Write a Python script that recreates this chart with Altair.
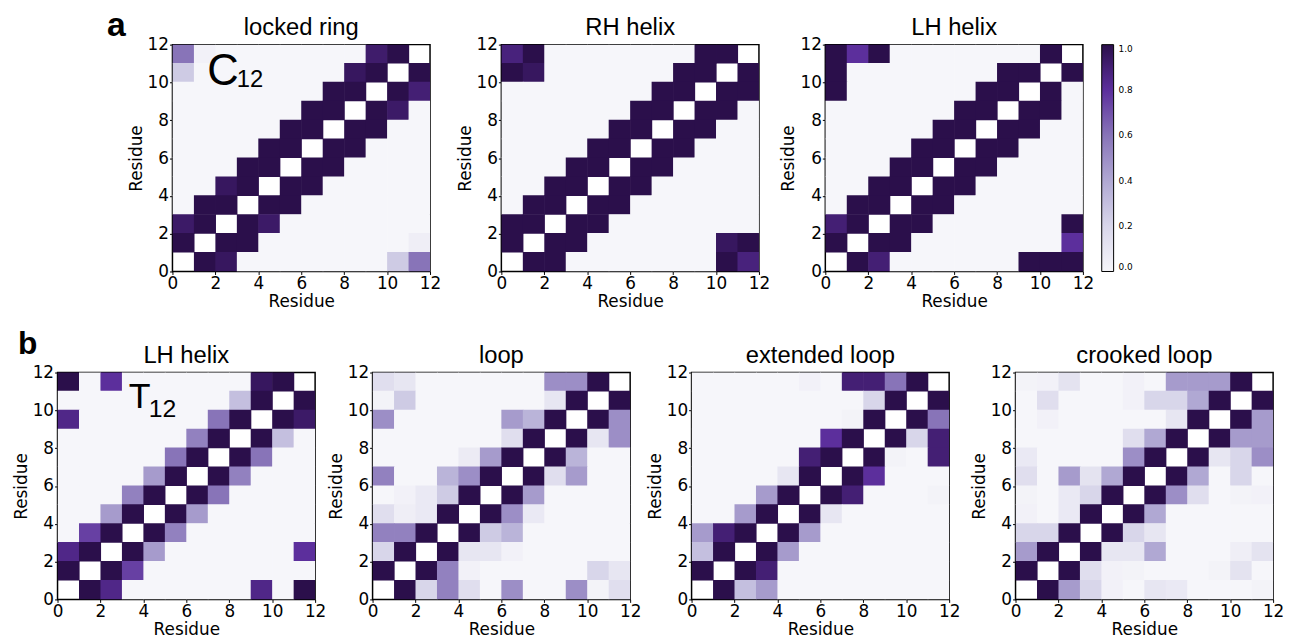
import altair as alt
import pandas as pd

N = 12
TICKS = [0, 2, 4, 6, 8, 10, 12]
COLOR_STOPS = [0.0, 0.2, 0.4, 0.6, 0.8, 1.0]
COLOR_RANGE = ["#f6f6fa", "#d8d6ea", "#b0a8d3", "#8874b8", "#5c2f9c", "#2b0f4b"]
LEGEND_VALUES = [0.0, 0.2, 0.4, 0.6, 0.8, 1.0]

D = None  # diagonal (not drawn)

# rows listed from residue 11 (top) down to residue 0 (bottom); columns residue 0..11
locked_ring = [
    [0.6, 0.03, 0, 0, 0, 0, 0, 0, 0, 0.92, 1.0, D],
    [0.25, 0, 0, 0, 0, 0, 0, 0, 0.95, 1.0, D, 1.0],
    [0, 0, 0, 0, 0, 0, 0, 1.0, 1.0, D, 1.0, 0.9],
    [0, 0, 0, 0, 0, 0, 1.0, 1.0, D, 1.0, 0.93, 0],
    [0, 0, 0, 0, 0, 1.0, 1.0, D, 1.0, 1.0, 0, 0],
    [0, 0, 0, 0, 1.0, 1.0, D, 1.0, 1.0, 0, 0, 0],
    [0, 0, 0, 1.0, 1.0, D, 1.0, 1.0, 0, 0, 0, 0],
    [0, 0, 0.95, 1.0, D, 1.0, 1.0, 0, 0, 0, 0, 0],
    [0, 1.0, 1.0, D, 1.0, 1.0, 0, 0, 0, 0, 0, 0],
    [0.93, 1.0, D, 1.0, 0.93, 0, 0, 0, 0, 0, 0, 0],
    [1.0, D, 1.0, 1.0, 0, 0, 0, 0, 0, 0, 0, 0.05],
    [D, 1.0, 0.95, 0, 0, 0, 0, 0, 0, 0, 0.25, 0.6],
]

rh_helix = [
    [0.88, 1.0, 0, 0, 0, 0, 0, 0, 0, 1.0, 1.0, D],
    [1.0, 0.95, 0, 0, 0, 0, 0, 0, 1.0, 1.0, D, 1.0],
    [0, 0, 0, 0, 0, 0, 0, 1.0, 1.0, D, 1.0, 1.0],
    [0, 0, 0, 0, 0, 0, 1.0, 1.0, D, 1.0, 1.0, 0],
    [0, 0, 0, 0, 0, 1.0, 1.0, D, 1.0, 1.0, 0, 0],
    [0, 0, 0, 0, 1.0, 1.0, D, 1.0, 1.0, 0, 0, 0],
    [0, 0, 0, 1.0, 1.0, D, 1.0, 1.0, 0, 0, 0, 0],
    [0, 0, 1.0, 1.0, D, 1.0, 1.0, 0, 0, 0, 0, 0],
    [0, 1.0, 1.0, D, 1.0, 1.0, 0, 0, 0, 0, 0, 0],
    [1.0, 1.0, D, 1.0, 1.0, 0, 0, 0, 0, 0, 0, 0],
    [1.0, D, 1.0, 1.0, 0, 0, 0, 0, 0, 0, 0.95, 1.0],
    [D, 1.0, 1.0, 0, 0, 0, 0, 0, 0, 0, 1.0, 0.88],
]

lh_helix_c12 = [
    [1.0, 0.8, 1.0, 0, 0, 0, 0, 0, 0, 0, 1.0, D],
    [1.0, 0, 0, 0, 0, 0, 0, 0, 1.0, 1.0, D, 1.0],
    [1.0, 0, 0, 0, 0, 0, 0, 1.0, 1.0, D, 1.0, 0],
    [0, 0, 0, 0, 0, 0, 1.0, 1.0, D, 1.0, 1.0, 0],
    [0, 0, 0, 0, 0, 1.0, 1.0, D, 1.0, 1.0, 0, 0],
    [0, 0, 0, 0, 1.0, 1.0, D, 1.0, 1.0, 0, 0, 0],
    [0, 0, 0, 1.0, 1.0, D, 1.0, 1.0, 0, 0, 0, 0],
    [0, 0, 1.0, 1.0, D, 1.0, 1.0, 0, 0, 0, 0, 0],
    [0, 1.0, 1.0, D, 1.0, 1.0, 0, 0, 0, 0, 0, 0],
    [0.9, 1.0, D, 1.0, 1.0, 0, 0, 0, 0, 0, 0, 1.0],
    [1.0, D, 1.0, 1.0, 0, 0, 0, 0, 0, 0, 0, 0.8],
    [D, 1.0, 0.9, 0, 0, 0, 0, 0, 0, 1.0, 1.0, 1.0],
]

lh_helix_t12 = [
    [1.0, 0, 0.8, 0, 0, 0, 0, 0, 0, 0.95, 1.0, D],
    [0, 0, 0, 0, 0, 0, 0, 0, 0.3, 1.0, D, 1.0],
    [0.85, 0, 0, 0, 0, 0, 0, 0.6, 1.0, D, 1.0, 0.93],
    [0, 0, 0, 0, 0, 0, 0.55, 1.0, D, 1.0, 0.3, 0],
    [0, 0, 0, 0, 0, 0.6, 1.0, D, 1.0, 0.6, 0, 0],
    [0, 0, 0, 0, 0.45, 1.0, D, 1.0, 0.55, 0, 0, 0],
    [0, 0, 0, 0.55, 1.0, D, 1.0, 0.6, 0, 0, 0, 0],
    [0, 0, 0.45, 1.0, D, 1.0, 0.45, 0, 0, 0, 0, 0],
    [0, 0.75, 1.0, D, 1.0, 0.55, 0, 0, 0, 0, 0, 0],
    [0.85, 1.0, D, 1.0, 0.45, 0, 0, 0, 0, 0, 0, 0.8],
    [1.0, D, 1.0, 0.75, 0, 0, 0, 0, 0, 0, 0, 0],
    [D, 1.0, 0.85, 0, 0, 0, 0, 0, 0, 0.85, 0, 1.0],
]

loop = [
    [0.15, 0.1, 0, 0, 0, 0, 0, 0, 0.5, 0.5, 1.0, D],
    [0.02, 0.25, 0, 0, 0, 0, 0, 0, 0.1, 1.0, D, 1.0],
    [0.5, 0, 0, 0, 0, 0, 0.45, 0.35, 1.0, D, 1.0, 0.5],
    [0, 0, 0, 0, 0, 0, 0.15, 1.0, D, 1.0, 0.1, 0.5],
    [0, 0, 0, 0, 0.07, 0.45, 1.0, D, 1.0, 0.35, 0, 0],
    [0.55, 0, 0, 0.35, 0.5, 1.0, D, 1.0, 0.15, 0.45, 0, 0],
    [0, 0.03, 0.08, 0.25, 1.0, D, 1.0, 0.45, 0, 0, 0, 0],
    [0.15, 0.05, 0.08, 1.0, D, 1.0, 0.5, 0.08, 0, 0, 0, 0],
    [0.55, 0.55, 1.0, D, 1.0, 0.25, 0.35, 0, 0, 0, 0, 0],
    [0.2, 1.0, D, 1.0, 0.1, 0.1, 0.03, 0, 0, 0, 0, 0],
    [1.0, D, 1.0, 0.55, 0.03, 0, 0, 0, 0, 0, 0.2, 0.1],
    [D, 1.0, 0.2, 0.55, 0.15, 0, 0.5, 0, 0, 0.5, 0.02, 0.15],
]

extended_loop = [
    [0, 0, 0, 0, 0, 0.03, 0, 0.9, 0.9, 0.6, 1.0, D],
    [0, 0, 0, 0, 0, 0, 0, 0, 0.2, 1.0, D, 1.0],
    [0, 0, 0, 0, 0, 0, 0, 0.02, 1.0, D, 1.0, 0.6],
    [0, 0, 0, 0, 0, 0, 0.8, 1.0, D, 1.0, 0.2, 0.9],
    [0, 0, 0, 0, 0, 0.9, 1.0, D, 1.0, 0.02, 0, 0.9],
    [0, 0, 0, 0, 0.1, 1.0, D, 1.0, 0.8, 0, 0, 0],
    [0, 0, 0, 0.45, 1.0, D, 1.0, 0.9, 0, 0, 0, 0.02],
    [0, 0, 0.45, 1.0, D, 1.0, 0.1, 0, 0, 0, 0, 0],
    [0.45, 0.9, 1.0, D, 1.0, 0.45, 0, 0, 0, 0, 0, 0],
    [0.3, 1.0, D, 1.0, 0.45, 0, 0, 0, 0, 0, 0, 0],
    [1.0, D, 1.0, 0.9, 0, 0, 0, 0, 0, 0, 0, 0],
    [D, 1.0, 0.3, 0.45, 0, 0, 0, 0, 0, 0, 0, 0],
]

crooked_loop = [
    [0.02, 0.03, 0.12, 0, 0, 0.03, 0, 0.45, 0.45, 0.45, 1.0, D],
    [0, 0.15, 0, 0, 0, 0.03, 0.2, 0.2, 0.4, 1.0, D, 1.0],
    [0, 0.03, 0, 0, 0, 0, 0, 0.1, 1.0, D, 1.0, 0.45],
    [0, 0, 0, 0, 0, 0.15, 0.4, 1.0, D, 1.0, 0.45, 0.45],
    [0.08, 0, 0, 0, 0, 0.5, 1.0, D, 1.0, 0.1, 0.2, 0.5],
    [0.15, 0, 0.45, 0.12, 0.4, 1.0, D, 1.0, 0.4, 0, 0.2, 0],
    [0.02, 0, 0.08, 0.2, 1.0, D, 1.0, 0.5, 0.15, 0, 0.02, 0.03],
    [0.03, 0, 0.08, 1.0, D, 1.0, 0.4, 0, 0, 0, 0, 0],
    [0.2, 0.2, 1.0, D, 1.0, 0.2, 0.1, 0, 0, 0, 0, 0],
    [0.45, 1.0, D, 1.0, 0.1, 0.1, 0.4, 0, 0, 0, 0.05, 0.12],
    [1.0, D, 1.0, 0.15, 0.03, 0.02, 0, 0, 0, 0.02, 0.12, 0],
    [D, 1.0, 0.45, 0.2, 0.03, 0, 0.1, 0.08, 0, 0, 0, 0.02],
]

PANEL_W = 260
PANEL_H = 229
TEXT_FONT = "Liberation Sans"
AXIS_FONT = "DejaVu Sans"


def to_frame(rows):
    recs = []
    for r, row in enumerate(rows):
        y = N - 1 - r
        for x, v in enumerate(row):
            if v is None:
                continue
            recs.append({"x0": x, "x1": x + 1, "y0": y, "y1": y + 1, "v": v})
    return pd.DataFrame(recs)


def marker(px, py):
    # invisible point that pins the layout bounds
    return alt.Chart(pd.DataFrame({"t": [0]})).mark_point(opacity=0, size=1).encode(
        x=alt.value(px), y=alt.value(py))


def note(txt, size, weight, px, py, align="left"):
    return alt.Chart(pd.DataFrame({"t": [txt]})).mark_text(
        align=align, baseline="alphabetic", font=TEXT_FONT,
        fontSize=size, fontWeight=weight, color="black",
    ).encode(text="t:N", x=alt.value(px), y=alt.value(py))


def panel(rows, title, show_legend=False, notes=(), markers=()):
    pos_scale = alt.Scale(domain=[0, N], nice=False, zero=False)
    if show_legend:
        leg = alt.Legend(
            type="gradient", title=None, orient="right", offset=19, direction="vertical",
            gradientLength=PANEL_H, gradientThickness=12,
            gradientStrokeColor="black", gradientStrokeWidth=1,
            values=LEGEND_VALUES, format=".1f",
            labelFont=AXIS_FONT, labelFontSize=9, labelColor="black",
            labelOffset=5,
        )
    else:
        leg = None
    heat = alt.Chart(to_frame(rows)).mark_rect(x2Offset=0.6, y2Offset=-0.6, clip=True).encode(
        x=alt.X("x0:Q", scale=pos_scale,
                axis=alt.Axis(values=TICKS, title="Residue", labelFlush=False, format="d")),
        x2="x1:Q",
        y=alt.Y("y0:Q", scale=pos_scale,
                axis=alt.Axis(values=TICKS, title="Residue", format="d")),
        y2="y1:Q",
        color=alt.Color("v:Q", scale=alt.Scale(domain=COLOR_STOPS, range=COLOR_RANGE,
                                               interpolate="rgb"), legend=leg),
    )
    layers = [heat, note(title, 24, "normal", PANEL_W / 2, -10, align="center")]
    for txt, size, weight, dx, dy in notes:
        layers.append(note(txt, size, weight, dx, dy))
    for px, py in markers:
        layers.append(marker(px, py))
    return alt.layer(*layers).properties(
        width=PANEL_W, height=PANEL_H,
        view=alt.ViewBackground(stroke="black", strokeWidth=1.5),
    )


def spacer(w, markers=()):
    layers = [alt.Chart(pd.DataFrame({"t": [""]})).mark_text().encode(
        text="t:N", x=alt.value(0), y=alt.value(0))]
    for px, py in markers:
        layers.append(marker(px, py))
    return alt.layer(*layers).properties(width=w, height=PANEL_H)


def indep(ch):
    return ch.resolve_scale(color="independent").resolve_legend(color="independent")


LEFT_PIN = -48

a1 = panel(locked_ring, "locked ring",
           notes=[("a", 34, "bold", -66, -9), ("C", 44, "normal", 35, 41),
                  ("12", 24, "normal", 65, 43)],
           markers=[(0, PANEL_H + 48), (0, -37)])
a2 = panel(rh_helix, "RH helix")
a3 = panel(lh_helix_c12, "LH helix", show_legend=True)

b1 = panel(lh_helix_t12, "LH helix",
           notes=[("b", 32, "bold", -40, -19), ("T", 36, "normal", 72, 36),
                  ("12", 25, "normal", 92, 45)],
           markers=[(LEFT_PIN, 0), (0, -48)])
b2 = panel(loop, "loop")
b3 = panel(extended_loop, "extended loop")
b4 = panel(crooked_loop, "crooked loop")

top = indep(alt.hconcat(spacer(116, markers=[(LEFT_PIN, 0)]), a1, spacer(72), a2,
                        spacer(67), a3, spacing=0, bounds="flush"))
bottom = indep(alt.hconcat(b1, spacer(58), b2, spacer(62), b3, spacer(67), b4,
                           spacing=0, bounds="flush"))

chart = indep(alt.vconcat(top, bottom, spacing=2)).properties(
    padding={"left": 0, "top": -5, "right": 0, "bottom": 0},
    background="white",
).configure_view(
    stroke="transparent"
).configure_axis(
    grid=False, domain=False,
    labelFont=AXIS_FONT, labelFontSize=17, labelColor="black",
    titleFont=AXIS_FONT, titleFontSize=17, titleFontWeight="normal", titleColor="black",
    tickColor="black", tickSize=3, tickWidth=1, labelPadding=1, titlePadding=2,
    labelOverlap=False,
)

chart.save("out.html", embed_options={"renderer": "svg", "actions": False})
